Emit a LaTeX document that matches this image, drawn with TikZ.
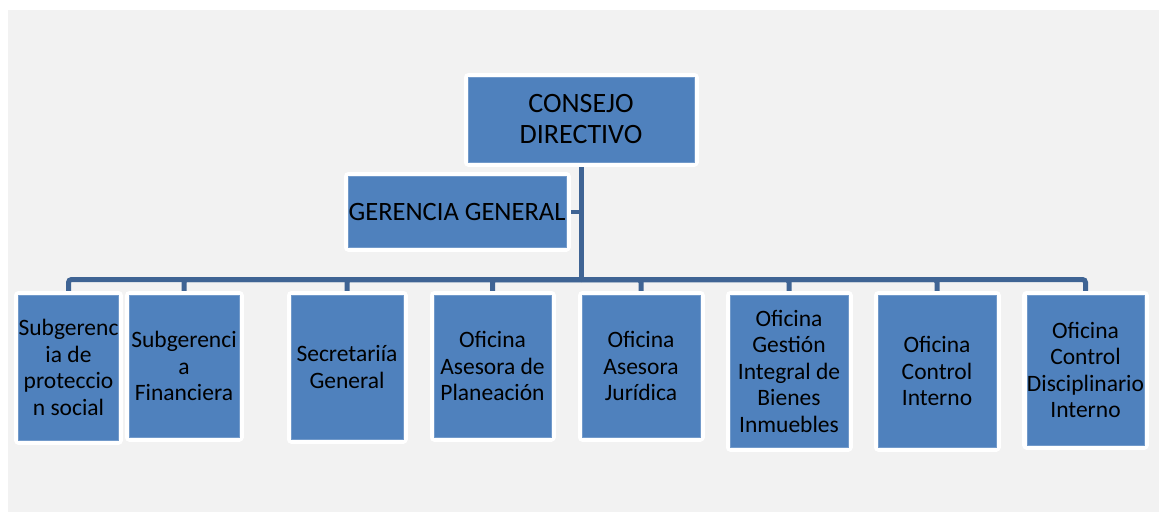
\documentclass[tikz,border=0pt]{standalone}
\usepackage{fontspec}
\setmainfont{Carlito}
\usepackage{tikz}
\usetikzlibrary{backgrounds}
\definecolor{boxblue}{HTML}{4F81BD}
\definecolor{linkblue}{HTML}{3F6494}
\definecolor{pagegray}{HTML}{F2F2F2}
\tikzset{unit/.style={fill=boxblue, draw=boxblue!80!white, line width=.8pt, inner sep=0pt, align=center, text=black, preaction={draw=white, line width=9pt, line join=round}}}
\tikzset{link/.style={linkblue, line width=5pt, rounded corners=3pt}}

\begin{document}
\begin{tikzpicture}  [x=1pt, y=-1pt]
\useasboundingbox (0,0) rectangle (1159,512);
\begin{scope}[on background layer]
\fill[pagegray] (8,10) rectangle (1159,512);
\end{scope}
\node[unit, minimum width=226, minimum height=85, font=\fontsize{28}{31}\selectfont] (consejo) at (581,119.5) {CONSEJO\\DIRECTIVO};
\node[unit, minimum width=218, minimum height=71, font=\fontsize{26.5}{30}\selectfont] (gerencia) at (457,211.5) {GERENCIA GENERAL};
\coordinate (bus) at (581,279.5);
\foreach \name/\cx/\cy/\w/\h/\txt in {subprot/68.5/367.5/99/145/{Subgerenc\\ia de\\proteccio\\n social}, subfin/184/366/110/142/{Subgerenci\\a\\Financiera}, secgen/347/367/112/144/{Secretariía\\General}, ofplan/492.5/366/117/142/{Oficina\\Asesora de\\Planeación}, ofjur/641/366/118/142/{Oficina\\Asesora\\Jurídica}, ofbienes/789/371/118/152/{Oficina\\Gestión\\Integral de\\Bienes\\Inmuebles}, ofcontrol/937/371/118/152/{Oficina\\Control\\Interno}, ofdisc/1085.5/370/117/150/{Oficina\\Control\\Disciplinario\\Interno}}
  \node[unit, minimum width=\w, minimum height=\h, font=\fontsize{23.5}{26.5}\selectfont] (\name) at (\cx,\cy) {\txt};
\begin{scope}[on background layer]
\draw[link] (consejo.south) -- (bus);
\draw[link, line width=4pt] (gerencia.east) -- (gerencia.east -| bus);
\foreach \name in {subprot,subfin,secgen,ofplan,ofjur,ofbienes,ofcontrol,ofdisc} \draw[link] (bus) -| (\name.north);
\end{scope}
\end{tikzpicture}
\end{document}
